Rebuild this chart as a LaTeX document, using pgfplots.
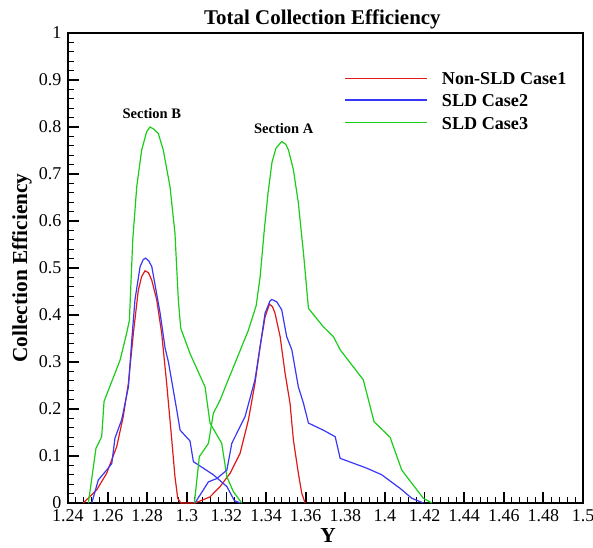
\documentclass[border=0pt]{standalone}
\usepackage{fontspec}
\setmainfont{Liberation Serif}
\usepackage{pgfplots}
\pgfplotsset{compat=1.18}
\definecolor{cRed}{RGB}{225,25,25}
\definecolor{cBlue}{RGB}{55,55,245}
\definecolor{cGreen}{RGB}{25,205,25}
\begin{document}
\begin{tikzpicture}
\begin{axis}[
  scale only axis, width=386.25pt, height=352.5pt,
  xmin=1.24, xmax=1.5, ymin=0, ymax=1,
  xtick={1.24,1.26,1.28,1.3,1.32,1.34,1.36,1.38,1.4,1.42,1.44,1.46,1.48,1.5},
  ytick={0,0.1,0.2,0.3,0.4,0.5,0.6,0.7,0.8,0.9,1},
  /pgf/number format/.cd, fixed, precision=2, assume math mode=true, /pgfplots/.cd,
  minor x tick num=4, minor y tick num=4,
  tick align=inside, tick pos=left,
  major tick length=8.5pt, minor tick length=4.5pt,
  major tick style={line width=1.4pt, black},
  minor tick style={line width=0.7pt, black},
  axis line style={line width=1.5pt},
  ticklabel style={font=\fontsize{13.5}{15}\selectfont},
  xticklabel style={yshift=-1.5pt},
  yticklabel style={xshift=-1.5pt},
  title={\textbf{Total Collection Efficiency}},
  title style={font=\fontsize{15.7}{18}\selectfont, at={(axis description cs:0.494,1)}, anchor=base, yshift=0pt},
  xlabel={\textbf{Y}},
  ylabel={\textbf{Collection Efficiency}},
  every axis x label/.style={at={(axis description cs:0.505,-0.070)}, anchor=center, font=\fontsize{16}{18}\selectfont},
  every axis y label/.style={at={(axis description cs:-0.0895,0.5)}, rotate=90, anchor=center, font=\fontsize{16}{18}\selectfont},
]
\coordinate (sw) at (rel axis cs:0,0);
\coordinate (ne) at (rel axis cs:1,1);

\addplot[cRed, line width=0.9pt] coordinates {
(1.2477,0) (1.2545,0.028) (1.2595,0.063) (1.2646,0.12) (1.2679,0.184) (1.2705,0.255)
(1.2730,0.361) (1.2755,0.453) (1.2772,0.482) (1.2789,0.494) (1.2806,0.490) (1.2823,0.474)
(1.2848,0.432) (1.2873,0.361) (1.2898,0.255) (1.2924,0.134) (1.2940,0.056) (1.2954,0.010)
(1.2970,0) (1.3016,0) (1.3041,0) (1.3117,0.013) (1.3168,0.035) (1.3218,0.063) (1.3269,0.106)
(1.3311,0.177) (1.3344,0.255) (1.3370,0.333) (1.3395,0.396) (1.3417,0.423) (1.3432,0.418)
(1.3445,0.404) (1.3471,0.354) (1.3496,0.276) (1.3521,0.212) (1.3538,0.134) (1.3563,0.063)
(1.3580,0.021) (1.3597,0)
};

\addplot[cBlue, line width=0.9pt] coordinates {
(1.2520,0) (1.2553,0.049) (1.2595,0.070) (1.2621,0.084) (1.2637,0.138) (1.2671,0.177)
(1.2705,0.247) (1.2722,0.347) (1.2738,0.432) (1.2764,0.503) (1.2780,0.518) (1.2792,0.521)
(1.2808,0.515) (1.2823,0.503) (1.2865,0.404) (1.2890,0.330) (1.2907,0.300) (1.2949,0.198)
(1.2966,0.155) (1.3016,0.132) (1.3033,0.088) (1.3134,0.060) (1.3202,0.035) (1.3240,0.005)
(1.3270,0)
};

\addplot[cGreen, line width=0.9pt] coordinates {
(1.2503,0) (1.2541,0.116) (1.2570,0.141) (1.2582,0.216) (1.2604,0.240) (1.2663,0.304)
(1.2696,0.361) (1.2710,0.389) (1.2727,0.560) (1.2747,0.673) (1.2772,0.751) (1.2797,0.790)
(1.2814,0.800) (1.2835,0.795) (1.2856,0.786) (1.2881,0.751) (1.2915,0.673) (1.2940,0.574)
(1.2957,0.432) (1.2969,0.372) (1.3016,0.318) (1.3092,0.247) (1.3117,0.170) (1.3176,0.127)
(1.3202,0.056) (1.3235,0.024) (1.3277,0)
};

\addplot[cBlue, line width=0.9pt] coordinates {
(1.3041,0) (1.3109,0.045) (1.3151,0.052) (1.3202,0.070) (1.3227,0.127) (1.3294,0.184)
(1.3344,0.262) (1.3370,0.333) (1.3395,0.404) (1.3420,0.430) (1.3429,0.433) (1.3454,0.428)
(1.3479,0.411) (1.3504,0.354) (1.3530,0.326) (1.3563,0.247) (1.3589,0.212) (1.3614,0.170)
(1.3689,0.155) (1.3749,0.141) (1.3774,0.095) (1.3909,0.074) (1.3984,0.060) (1.4077,0.031)
(1.4136,0.010) (1.4194,0)
};

\addplot[cGreen, line width=0.9pt] coordinates {
(1.3038,0) (1.3063,0.0985) (1.3109,0.127) (1.3134,0.191) (1.3168,0.219) (1.3202,0.255)
(1.3260,0.315) (1.3311,0.368) (1.3350,0.420) (1.3370,0.481) (1.3391,0.581) (1.3410,0.660)
(1.3430,0.725) (1.3450,0.755) (1.3479,0.769) (1.3500,0.763) (1.3513,0.751) (1.3538,0.709)
(1.3563,0.638) (1.3589,0.531) (1.3614,0.414) (1.3689,0.375) (1.3740,0.354) (1.3774,0.326)
(1.3891,0.262) (1.3945,0.173) (1.4026,0.140) (1.4085,0.070) (1.4194,0.010) (1.4237,0)
};

% legend
\draw[cRed, line width=0.9pt] (axis description cs:0.538,0.9036) -- (axis description cs:0.697,0.9036);
\draw[cBlue, line width=0.9pt] (axis description cs:0.538,0.8574) -- (axis description cs:0.697,0.8574);
\draw[cGreen, line width=0.9pt] (axis description cs:0.538,0.8100) -- (axis description cs:0.697,0.8100);
\node[anchor=base west, inner sep=0pt, font=\fontsize{13.6}{15}\selectfont\bfseries] at (axis description cs:0.7256,0.8894) {Non-SLD Case1};
\node[anchor=base west, inner sep=0pt, font=\fontsize{13.6}{15}\selectfont\bfseries] at (axis description cs:0.7256,0.8426) {SLD Case2};
\node[anchor=base west, inner sep=0pt, font=\fontsize{13.6}{15}\selectfont\bfseries] at (axis description cs:0.7256,0.7957) {SLD Case3};

\node[anchor=base, font=\fontsize{10.9}{12}\selectfont\bfseries] at (axis cs:1.2823,0.818) {Section B};
\node[anchor=base, font=\fontsize{10.9}{12}\selectfont\bfseries] at (axis cs:1.3489,0.786) {Section A};
\end{axis}
\pgfresetboundingbox
\path[use as bounding box] ([xshift=-51pt,yshift=-33pt]sw) rectangle ([xshift=7.5pt,yshift=24.75pt]ne);
\end{tikzpicture}
\end{document}
